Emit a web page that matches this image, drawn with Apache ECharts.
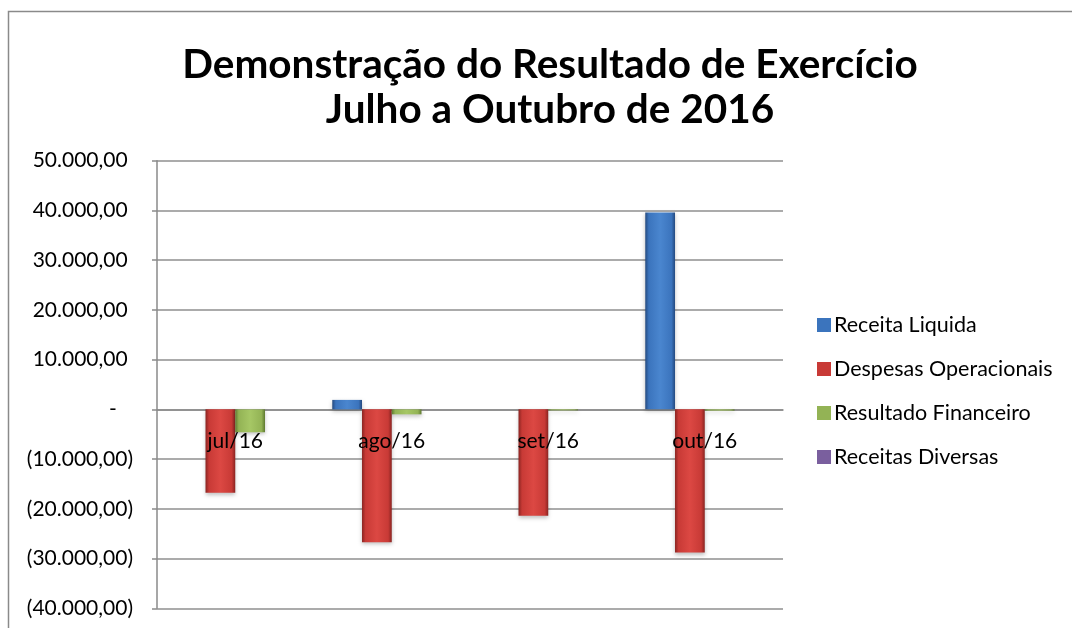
<!DOCTYPE html>
<html>
<head>
<meta charset="utf-8">
<script src="https://cdn.jsdelivr.net/npm/echarts@6/dist/echarts.min.js"></script>
<style>
html,body{margin:0;padding:0;background:#fff;}
#chart{width:1072px;height:628px;}
</style>
</head>
<body>
<div id="chart"></div>
<script>
const categories = ['jul/16', 'ago/16', 'set/16', 'out/16'];
const receitaLiquida = [0, 1900, 0, 39600];
const despesasOperacionais = [-16750, -26700, -21400, -28800];
const resultadoFinanceiro = [-4600, -1000, -200, -250];
const receitasDiversas = [0, 0, 0, 0];
const seriesNames = ['Receita Liquida', 'Despesas Operacionais', 'Resultado Financeiro', 'Receitas Diversas'];
const yMin = -40000, yMax = 50000, yStep = 10000;

function fmt(v) {
  if (v === 0) return '-   ';
  const a = Math.abs(v);
  const s = a.toFixed(2).replace('.', ',');
  const parts = s.split(',');
  const intp = parts[0].replace(/\B(?=(\d{3})+(?!\d))/g, '.');
  const txt = intp + ',' + parts[1];
  return v < 0 ? '(' + txt + ')' : txt + ' ';
}

function grad(light, mid, dark) {
  return new echarts.graphic.LinearGradient(0, 0, 1, 0, [
    {offset: 0, color: dark},
    {offset: 0.12, color: mid},
    {offset: 0.5, color: light},
    {offset: 0.88, color: mid},
    {offset: 1, color: dark}
  ]);
}
const fills = [
  grad('#4a86cf', '#3b74bd', '#244a80'),
  grad('#dc4843', '#c83a36', '#8a2421'),
  grad('#a6c765', '#93b355', '#5f7a30'),
  grad('#8c70b2', '#7a5f9e', '#4f3c6a')
];
const legendColors = ['#3b74bd', '#c83a36', '#93b355', '#7a5f9e'];
const dataSets = [receitaLiquida, despesasOperacionais, resultadoFinanceiro, receitasDiversas];

const chart = echarts.init(document.getElementById('chart'));
chart.setOption({
  backgroundColor: '#fff',
  animation: false,
  title: {
    text: 'Demonstração do Resultado de Exercício\nJulho a Outubro de 2016',
    left: 545, top: 37, textAlign: 'center',
    textStyle: {fontFamily: 'Lato', fontWeight: 'bold', fontSize: 40.5, lineHeight: 45, color: '#000'}
  },
  graphic: [{
    type: 'rect', shape: {x: 8.5, y: 11.5, width: 1200, height: 800},
    style: {fill: 'none', stroke: '#8a8a8a', lineWidth: 1.5}, silent: true, z: -1
  }],
  legend: {
    orient: 'vertical', left: 812, top: 309,
    itemWidth: 14, itemHeight: 14, itemGap: 22,
    textStyle: {fontFamily: 'Lato', fontSize: 21.5, lineHeight: 20, color: '#000', padding: [0, 0, 0, -2]},
    data: seriesNames.map((n, i) => ({name: n, icon: 'rect', itemStyle: {color: legendColors[i]}}))
  },
  grid: {left: 157, right: 289, top: 160.7, bottom: 19.7, containLabel: false, outerBoundsMode: 'none'},
  xAxis: [{
    type: 'category', data: categories,
    axisLine: {show: true, onZero: true, lineStyle: {color: '#8a8a8a', width: 1.5}},
    axisTick: {show: false},
    axisLabel: {show: false}
  }, {
    type: 'category', data: categories, position: 'bottom', offset: -199.3, z: 10,
    axisLine: {show: false, onZero: false},
    axisTick: {show: false},
    splitLine: {show: false},
    axisLabel: {show: true, fontFamily: 'Lato', fontSize: 21, color: '#000', margin: 22}
  }],
  yAxis: {
    type: 'value', min: yMin, max: yMax, interval: yStep,
    axisLine: {show: true, lineStyle: {color: '#8a8a8a', width: 1.5}},
    axisTick: {show: true, inside: false, length: 5, lineStyle: {color: '#8a8a8a', width: 1.5}},
    splitLine: {show: true, lineStyle: {color: '#8f8f8f', width: 1.5}},
    axisLabel: {fontFamily: 'Lato', fontSize: 21, color: '#000', margin: 24, formatter: fmt}
  },
  series: seriesNames.map((n, i) => ({
    name: n, type: 'bar', data: dataSets[i], xAxisIndex: 0,
    barGap: '0%', barCategoryGap: '24%',
    itemStyle: {color: fills[i], shadowColor: 'rgba(0,0,0,0.25)', shadowBlur: 4, shadowOffsetY: 2}
  }))
});
</script>
</body>
</html>
